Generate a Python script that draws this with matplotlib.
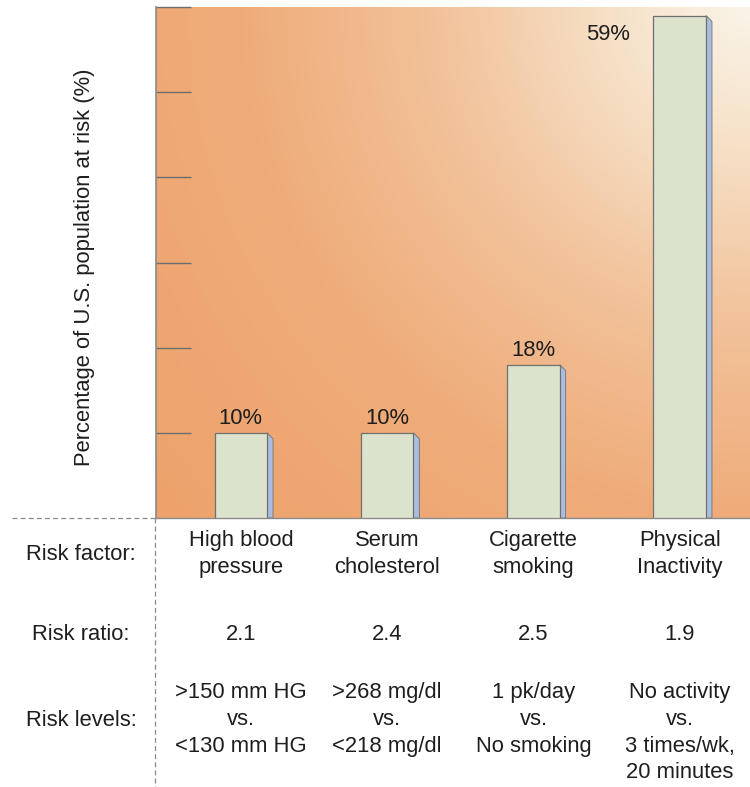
import numpy as np
import matplotlib.pyplot as plt
from matplotlib.colors import LinearSegmentedColormap
from matplotlib.patches import Polygon
from matplotlib.lines import Line2D
from matplotlib.transforms import blended_transform_factory

plt.rcParams['font.family'] = ['Liberation Sans', 'DejaVu Sans']

factors = ['High blood\npressure', 'Serum\ncholesterol', 'Cigarette\nsmoking', 'Physical\nInactivity']
pct_at_risk = [10, 10, 18, 59]
risk_ratio = ['2.1', '2.4', '2.5', '1.9']
risk_levels = ['>150 mm HG\nvs.\n<130 mm HG',
               '>268 mg/dl\nvs.\n<218 mg/dl',
               '1 pk/day\nvs.\nNo smoking',
               'No activity\nvs.\n3 times/wk,\n20 minutes']
yticks = [10, 20, 30, 40, 50, 60]

text_col = '#1e1e1e'
fs = 15.8

fig = plt.figure(figsize=(7.5, 7.87), dpi=100)
ax = fig.add_axes([156 / 750, 1 - 518 / 787, 594 / 750, 511 / 787])

# radial background, light in the top-right corner fading to orange
w_px, h_px = 594, 511
xx, yy = np.meshgrid(np.linspace(0, w_px, 300), np.linspace(0, h_px, 260))
dist = np.hypot(w_px - xx, h_px - yy) / np.hypot(w_px, h_px)
bg_cmap = LinearSegmentedColormap.from_list(
    'bg', [(0, '#faf4e8'), (0.18, '#f6e0c6'), (0.4, '#f2c29a'),
           (0.65, '#efac7a'), (1.0, '#eda26b')])
ax.imshow(dist, cmap=bg_cmap, origin='lower', extent=[0, 1, 0, 1],
          transform=ax.transAxes, aspect='auto', zorder=0, vmin=0, vmax=1)

x = np.arange(len(factors))
width = 0.36
depth = 0.04
drop = 0.7

ax.bar(x, pct_at_risk, width=width, color='#dce3cc', edgecolor='#707070',
       linewidth=0.9, zorder=3)
for xi, h in zip(x, pct_at_risk):
    xr = xi + width / 2
    side = Polygon([(xr, 0), (xr, h), (xr + depth, h - drop), (xr + depth, 0)],
                   closed=True, facecolor='#a9bde0', edgecolor='#707070',
                   linewidth=0.6, zorder=2)
    ax.add_patch(side)

for xi, h in zip(x[:3], pct_at_risk[:3]):
    ax.annotate(f'{h}%', (xi, h), xytext=(0, 3), textcoords='offset points',
                ha='center', va='bottom', fontsize=fs, color=text_col, zorder=4)
ax.annotate(f'{pct_at_risk[3]}%', (x[3] - width / 2, pct_at_risk[3]),
            xytext=(-17, -6), textcoords='offset points',
            ha='right', va='top', fontsize=fs, color=text_col, zorder=4)

ax.set_xlim(-0.58, 3.48)
ax.set_ylim(0, 60)
ax.set_xticks([])
ax.set_yticks(yticks)
ax.set_yticklabels([])
ax.tick_params(axis='y', direction='in', length=25, width=1.0, color='#6e6e6e')
for s in ['top', 'right']:
    ax.spines[s].set_visible(False)
ax.spines['left'].set_color('#8a8a8a')
ax.spines['left'].set_linewidth(1.2)
ax.spines['bottom'].set_color('#8a8a8a')
ax.spines['bottom'].set_linewidth(1.0)

fig.text(85 / 750, 1 - 267 / 787, 'Percentage of U.S. population at risk (%)',
         rotation=90, ha='center', va='center', fontsize=fs, color=text_col)

# table underneath the bars
y_factor = 1 - 554 / 787
y_ratio = 1 - 634 / 787
y_levels_top = 1 - 682 / 787
y_levels_lbl = 1 - 720 / 787
row_x = 81 / 750
ls = 1.36

fig.text(row_x, y_factor, 'Risk factor:', ha='center', va='center', fontsize=fs, color=text_col)
fig.text(row_x, y_ratio, 'Risk ratio:', ha='center', va='center', fontsize=fs, color=text_col)
fig.text(row_x, y_levels_lbl, 'Risk levels:', ha='center', va='center', fontsize=fs, color=text_col)

col_tr = blended_transform_factory(ax.transData, fig.transFigure)
for xi, f, r, lv in zip(x, factors, risk_ratio, risk_levels):
    fig.text(xi, y_factor, f, transform=col_tr, ha='center', va='center',
             fontsize=fs, color=text_col, linespacing=1.32, multialignment='center')
    fig.text(xi, y_ratio, r, transform=col_tr, ha='center', va='center',
             fontsize=fs, color=text_col)
    fig.text(xi, y_levels_top, lv, transform=col_tr, ha='center', va='top',
             fontsize=fs, color=text_col, linespacing=ls, multialignment='center')

# dashed guide lines
fig.add_artist(Line2D([12 / 750, 155 / 750], [1 - 518 / 787] * 2, transform=fig.transFigure,
                      color='#8a8a8a', linestyle=(0, (4, 2.5)), linewidth=0.9))
fig.add_artist(Line2D([155 / 750] * 2, [1 - 518 / 787, 0], transform=fig.transFigure,
                      color='#8a8a8a', linestyle=(0, (4, 2.5)), linewidth=0.9))

fig.savefig('out.png', dpi=100)
